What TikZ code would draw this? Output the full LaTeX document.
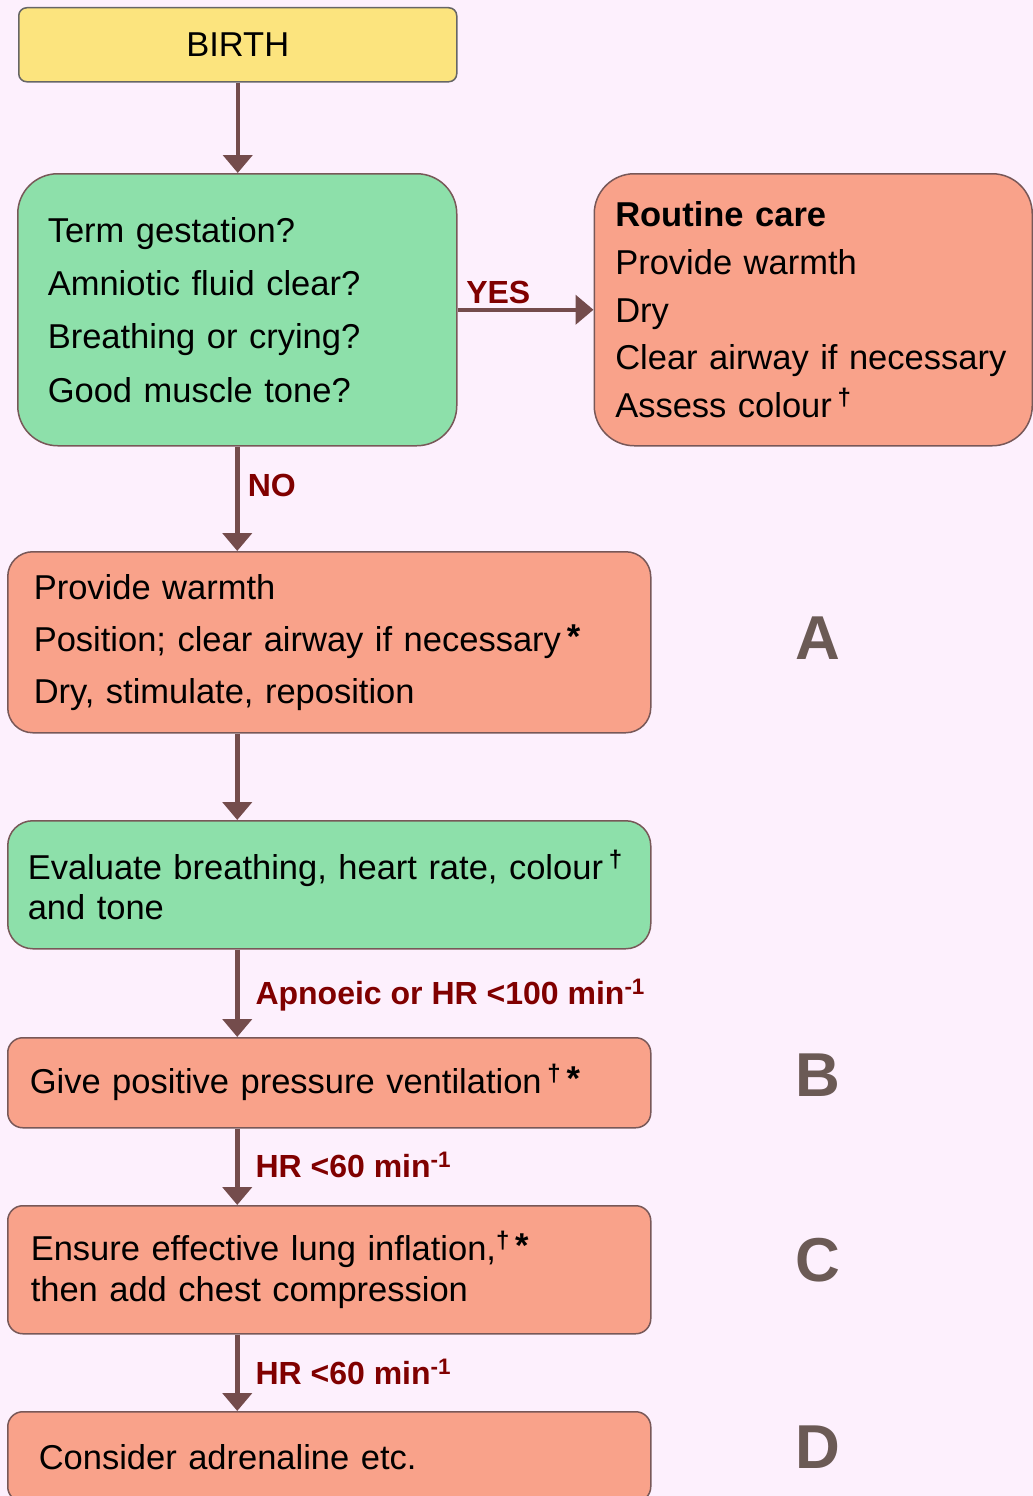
\documentclass[tikz,border=0pt]{standalone}
\usepackage{fontspec}
\setmainfont{Liberation Sans}
\usetikzlibrary{arrows.meta,positioning}
\definecolor{softyellow}{RGB}{252,228,126}
\definecolor{softgreen}{RGB}{141,224,170}
\definecolor{softsalmon}{RGB}{249,162,138}
\definecolor{softpink}{RGB}{253,240,253}
\definecolor{arrowbrown}{RGB}{116,76,76}
\definecolor{labelred}{RGB}{128,0,0}
\definecolor{lettergray}{RGB}{107,90,85}
\definecolor{edgebrown}{RGB}{120,88,88}
\newcommand{\dagsup}{\raisebox{12pt}{\bfseries\fontsize{24}{24}\selectfont †}}
\newcommand{\astsup}{\raisebox{3pt}{\textbf{*}}}

\begin{document}
\begin{tikzpicture}[x=1pt,y=-1pt,
  block/.style={draw=edgebrown,line width=1.5pt,align=left,inner ysep=0pt,anchor=north west},
  arrow/.style={-{Triangle[width=29pt,length=18pt]},line width=4.5pt,draw=arrowbrown},
  cond/.style={font=\bfseries\fontsize{32}{36}\selectfont,text=labelred},
  step letter/.style={font=\bfseries\fontsize{62}{70}\selectfont,text=lettergray}
]
\useasboundingbox (0,0) rectangle (1033,1496);
\clip (0,0) rectangle (1033,1496);
\fill[softpink] (0,0) rectangle (1033,1496);

\node[block,fill=softyellow,draw=gray!80!black,rounded corners=8pt,align=center,
  minimum width=438pt,minimum height=74pt,font=\fontsize{34.5}{41}\selectfont] (birth) at (18,7) {BIRTH};
\node[block,fill=softgreen,rounded corners=40pt,minimum height=272pt,
  text width=379pt,inner xsep=30pt,font=\fontsize{34.5}{53.3}\selectfont] (quest) at (17,173)
  {Term gestation?\\Amniotic fluid clear?\\Breathing or crying?\\Good muscle tone?};
\node[block,fill=softsalmon,rounded corners=40pt,minimum height=272pt,anchor=west,
  text width=396pt,inner xsep=21pt,font=\fontsize{34.5}{47.8}\selectfont,right=136pt of quest] (routine)
  {\textbf{Routine care}\\Provide warmth\\Dry\\Clear airway if necessary\\Assess colour\,\dagsup};

\node[block,fill=softsalmon,rounded corners=25pt,minimum height=181pt,
  text width=591pt,inner xsep=26pt,font=\fontsize{34.5}{52}\selectfont] (warm) at (7,551)
  {Provide warmth\\Position; clear airway if necessary\,\astsup\\Dry, stimulate, reposition};
\node[block,fill=softgreen,rounded corners=25pt,minimum height=128pt,
  text width=603pt,inner xsep=20pt,font=\fontsize{34.5}{40}\selectfont] (eval) at (7,820)
  {Evaluate breathing, heart rate, colour\,\dagsup\\and tone};
\node[block,fill=softsalmon,rounded corners=15pt,minimum height=90pt,
  text width=599pt,inner xsep=22pt,font=\fontsize{34.5}{41}\selectfont] (ppv) at (7,1037)
  {Give positive pressure ventilation\,\dagsup\,\astsup};
\node[block,fill=softsalmon,rounded corners=15pt,minimum height=128pt,
  text width=597pt,inner xsep=23pt,font=\fontsize{34.5}{41}\selectfont] (chest) at (7,1205)
  {Ensure effective lung inflation,\dagsup\,\astsup\\then add chest compression};
\node[block,fill=softsalmon,rounded corners=15pt,minimum height=90pt,
  text width=581pt,inner xsep=31pt,font=\fontsize{34.5}{41}\selectfont] (drug) at (7,1411)
  {Consider adrenaline etc.};

% step letters
\node[step letter] (stepA) at (818,638) {A};
\node[step letter] (stepB) at (818,1075) {B};
\node[step letter] (stepC) at (818,1260) {C};
\node[step letter] (stepD) at (818,1447) {D};

\draw[arrow] (birth.south) -- (birth.south |- quest.north);
\draw[arrow] (quest.east) -- node[cond,above,pos=0.3] (yes) {YES} (routine.west);
\draw[arrow] (quest.south) -- node[cond,right,pos=0.37,xshift=5pt] (no) {NO} (quest.south |- warm.north);
\draw[arrow] (warm.south -| quest.south) -- (quest.south |- eval.north);
\draw[arrow] (eval.south -| quest.south) -- (quest.south |- ppv.north);
\draw[arrow] (ppv.south -| quest.south) -- (quest.south |- chest.north);
\draw[arrow] (chest.south -| quest.south) -- (quest.south |- drug.north);

\node[cond,anchor=base west] (apnoea) at (252,1004) {Apnoeic or HR <100 min\textsuperscript{-1}};
\node[cond,anchor=base west] (slowB) at (252,1177) {HR <60 min\textsuperscript{-1}};
\node[cond,anchor=base west] (slowC) at (252,1384) {HR <60 min\textsuperscript{-1}};
\end{tikzpicture}
\end{document}
